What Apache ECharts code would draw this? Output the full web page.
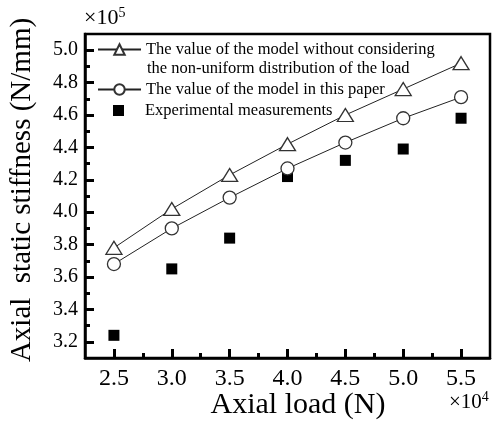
<!DOCTYPE html>
<html>
<head>
    <meta charset="utf-8">
    <title>Axial static stiffness</title>
    <script src="https://cdn.jsdelivr.net/npm/echarts@6/dist/echarts.min.js"></script>
    <style>
        html, body { margin: 0; padding: 0; background: #fff; }
        #chart { width: 494px; height: 421px; }
    </style>
</head>
<body>
    <div id="chart"></div>
    <script type="text/javascript">
        // axial load, x10^4 N
        var loads = [2.5, 3.0, 3.5, 4.0, 4.5, 5.0, 5.5];
        // stiffness, x10^5 N/mm
        var uniformModel = [3.78, 4.02, 4.23, 4.42, 4.60, 4.76, 4.92];
        var paperModel = [3.68, 3.90, 4.09, 4.27, 4.43, 4.58, 4.71];
        var measured = [3.24, 3.65, 3.84, 4.22, 4.32, 4.39, 4.58];

        var xMajor = [2.5, 3.0, 3.5, 4.0, 4.5, 5.0, 5.5];
        var xMinor = [2.75, 3.25, 3.75, 4.25, 4.75, 5.25];
        var yMajor = [3.2, 3.4, 3.6, 3.8, 4.0, 4.2, 4.4, 4.6, 4.8, 5.0];
        var yMinor = [3.3, 3.5, 3.7, 3.9, 4.1, 4.3, 4.5, 4.7, 4.9];

        var seriesNames = [
            'The value of the model without considering',
            'The value of the model in this paper',
            'Experimental measurements'
        ];

        var font = "'Liberation Serif', 'Times New Roman', serif";
        var legendText = { fontFamily: font, fontSize: 16.5, color: '#000' };

        function pairs(xs, ys) {
            var out = [];
            for (var i = 0; i < xs.length; i++) out.push([xs[i], ys[i]]);
            return out;
        }

        var chart = echarts.init(document.getElementById('chart'));

        var option = {
            animation: false,
            textStyle: { fontFamily: font },
            grid: {
                left: 85, right: 4, top: 34, bottom: 63,
                show: true, borderColor: '#000', borderWidth: 2.5,
                backgroundColor: 'transparent'
            },
            legend: [
                {
                    data: [seriesNames[0]],
                    left: 97, top: 41, padding: 0,
                    itemWidth: 43, itemHeight: 13,
                    textStyle: legendText
                },
                {
                    data: [seriesNames[1]],
                    left: 97, top: 81, padding: 0,
                    itemWidth: 43, itemHeight: 13,
                    textStyle: legendText
                },
                {
                    // square only, text pushed right to line up with the others
                    data: [seriesNames[2]],
                    left: 113, top: 102, padding: 0,
                    itemWidth: 11, itemHeight: 11,
                    textStyle: { fontFamily: font, fontSize: 16.5, color: '#000', padding: [0, 0, 0, 16] }
                }
            ],
            graphic: [
                {
                    type: 'text', left: 147, top: 60,
                    style: { text: 'the non-uniform distribution of the load', font: '16.5px ' + font, fill: '#000' }
                },
                {
                    type: 'text', left: 84, top: 6,
                    style: {
                        text: '×10{s|5}', font: '22px ' + font, fill: '#000',
                        rich: { s: { fontSize: 14, fontFamily: font, verticalAlign: 'top', padding: [0, 0, 10, 0] } }
                    }
                },
                {
                    type: 'text', left: 449, top: 390,
                    style: {
                        text: '×10{s|4}', font: '21px ' + font, fill: '#000',
                        rich: { s: { fontSize: 14, fontFamily: font, verticalAlign: 'top', padding: [0, 0, 10, 0] } }
                    }
                },
                {
                    type: 'text', x: 298, y: 405,
                    style: { text: 'Axial load (N)', font: '30px ' + font, fill: '#000', align: 'center', verticalAlign: 'middle' }
                },
                {
                    type: 'text', x: 22, y: 190, rotation: Math.PI / 2,
                    style: { text: 'Axial  static stiffness (N/mm)', font: '29px ' + font, fill: '#000', align: 'center', verticalAlign: 'middle' }
                }
            ],
            xAxis: [
                {
                    type: 'value', min: 2.25, max: 5.75, position: 'bottom',
                    axisLine: { show: true, lineStyle: { color: '#000', width: 2.5 } },
                    axisTick: { show: true, inside: true, length: 9, customValues: xMajor, lineStyle: { color: '#000', width: 3 } },
                    axisLabel: {
                        customValues: xMajor, margin: 9, color: '#000', fontSize: 24, fontFamily: font,
                        formatter: function (v) { return v.toFixed(1); }
                    },
                    splitLine: { show: false }
                },
                {
                    type: 'value', min: 2.25, max: 5.75, position: 'bottom', offset: 0,
                    axisLine: { show: false },
                    axisTick: { show: true, inside: true, length: 5, customValues: xMinor, lineStyle: { color: '#000', width: 3 } },
                    axisLabel: { show: false },
                    splitLine: { show: false }
                }
            ],
            yAxis: [
                {
                    type: 'value', min: 3.1, max: 5.1, position: 'left',
                    axisLine: { show: true, lineStyle: { color: '#000', width: 2.5 } },
                    axisTick: { show: true, inside: true, length: 9, customValues: yMajor, lineStyle: { color: '#000', width: 3 } },
                    axisLabel: {
                        customValues: yMajor, margin: 7, color: '#000', fontSize: 20, fontFamily: font,
                        formatter: function (v) { return v.toFixed(1); }
                    },
                    splitLine: { show: false }
                },
                {
                    type: 'value', min: 3.1, max: 5.1, position: 'left', offset: 0,
                    axisLine: { show: false },
                    axisTick: { show: true, inside: true, length: 5, customValues: yMinor, lineStyle: { color: '#000', width: 3 } },
                    axisLabel: { show: false },
                    splitLine: { show: false }
                }
            ],
            series: [
                {
                    name: seriesNames[0],
                    type: 'line',
                    data: pairs(loads, uniformModel),
                    symbol: 'triangle', symbolSize: [16, 13],
                    lineStyle: { color: '#222', width: 1 },
                    itemStyle: { color: '#fff', borderColor: '#333', borderWidth: 1.3 }
                },
                {
                    name: seriesNames[1],
                    type: 'line',
                    data: pairs(loads, paperModel),
                    symbol: 'circle', symbolSize: 13,
                    lineStyle: { color: '#222', width: 1 },
                    itemStyle: { color: '#fff', borderColor: '#333', borderWidth: 1.3 }
                },
                {
                    name: seriesNames[2],
                    type: 'scatter',
                    data: pairs(loads, measured),
                    symbol: 'rect', symbolSize: 11,
                    itemStyle: { color: '#000', opacity: 1 }
                }
            ]
        };

        chart.setOption(option);
    </script>
</body>
</html>
